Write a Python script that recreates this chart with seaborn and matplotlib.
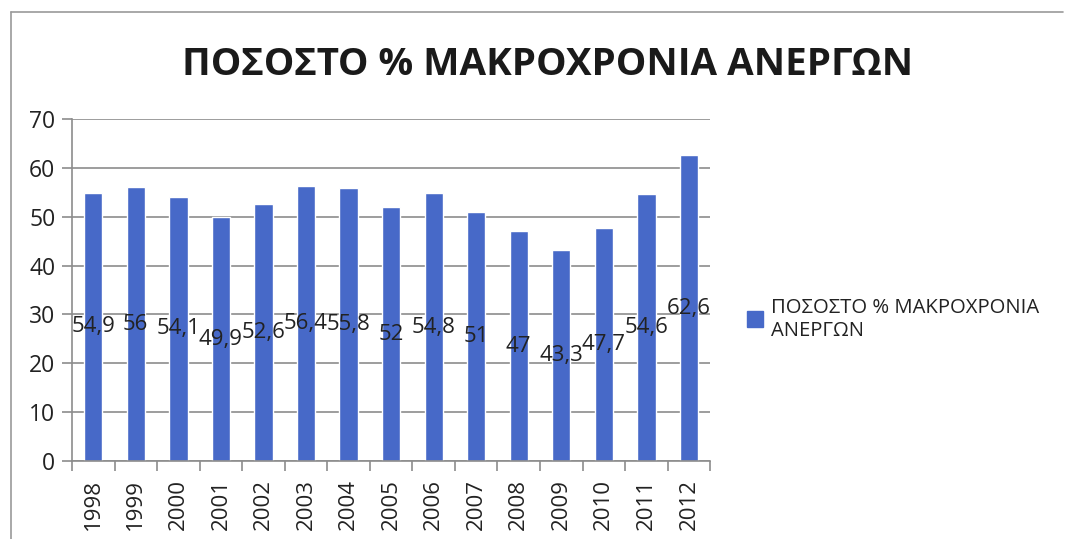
import matplotlib
matplotlib.use("Agg")
import matplotlib.pyplot as plt
import seaborn as sns
import pandas as pd
from matplotlib.lines import Line2D

# δεδομένα
years = ["1998", "1999", "2000", "2001", "2002", "2003", "2004", "2005",
         "2006", "2007", "2008", "2009", "2010", "2011", "2012"]
values = [54.9, 56, 54.1, 49.9, 52.6, 56.4, 55.8, 52, 54.8, 51, 47, 43.3, 47.7, 54.6, 62.6]
title = "ΠΟΣΟΣΤΟ % ΜΑΚΡΟΧΡΟΝΙΑ ΑΝΕΡΓΩΝ"
series_name = "ΠΟΣΟΣΤΟ % ΜΑΚΡΟΧΡΟΝΙΑ\nΑΝΕΡΓΩΝ"
bar_color = "#4769c8"

sns.set_theme(style="white")
plt.rcParams["font.family"] = ["Open Sans", "DejaVu Sans"]

df = pd.DataFrame({"year": years, "value": values})

fig = plt.figure(figsize=(10.68, 5.39), dpi=100)
ax = fig.add_axes([0.0674, 0.1447, 0.5976, 0.6343])

sns.barplot(data=df, x="year", y="value", color=bar_color, width=0.43,
            saturation=1, ax=ax)

ax.set_ylim(0, 70)
ax.set_xlim(-0.5, len(years) - 0.5)
ax.set_yticks(range(0, 71, 10))
ax.grid(axis="y", color="#8c8c8c", linewidth=1.2)
ax.set_axisbelow(True)
ax.set_xlabel("")
ax.set_ylabel("")

for s in ["top", "right"]:
    ax.spines[s].set_visible(False)
for s in ["left", "bottom"]:
    ax.spines[s].set_color("#8c8c8c")
    ax.spines[s].set_linewidth(1.2)

ax.tick_params(axis="y", labelsize=16.5, length=7, width=1.2, color="#8c8c8c",
               left=True, pad=5, labelcolor="#222222")
ax.tick_params(axis="x", which="major", labelsize=16, length=0, rotation=90,
               pad=13, labelcolor="#222222")
ax.set_xticks([i - 0.5 for i in range(len(years) + 1)], minor=True)
ax.tick_params(axis="x", which="minor", length=7, width=1.2, color="#8c8c8c",
               bottom=True)

labels = [f"{v:g}".replace(".", ",") for v in values]
ax.bar_label(ax.containers[0], labels=labels, label_type="center",
             fontsize=16, color="#222222")

fig.text(0.513, 0.88, title, ha="center", va="center", fontsize=27.7,
         fontweight="bold", color="#1a1a1a")

handle = Line2D([], [], marker="s", linestyle="none", markersize=11,
                markerfacecolor=bar_color, markeredgecolor=bar_color)
fig.legend([handle], [series_name], loc="center left",
           bbox_to_anchor=(0.68, 0.408), frameon=False, fontsize=14.6,
           handletextpad=0.3, handlelength=1.0, labelcolor="#222222",
           labelspacing=0.6)

# πλαίσιο
fig.add_artist(Line2D([0.01, 0.01], [0.0, 0.978], transform=fig.transFigure,
                      color="#9a9a9a", linewidth=1.2))
fig.add_artist(Line2D([0.01, 0.995], [0.978, 0.978], transform=fig.transFigure,
                      color="#9a9a9a", linewidth=1.2))

fig.savefig("out.png", dpi=100, facecolor="white")
